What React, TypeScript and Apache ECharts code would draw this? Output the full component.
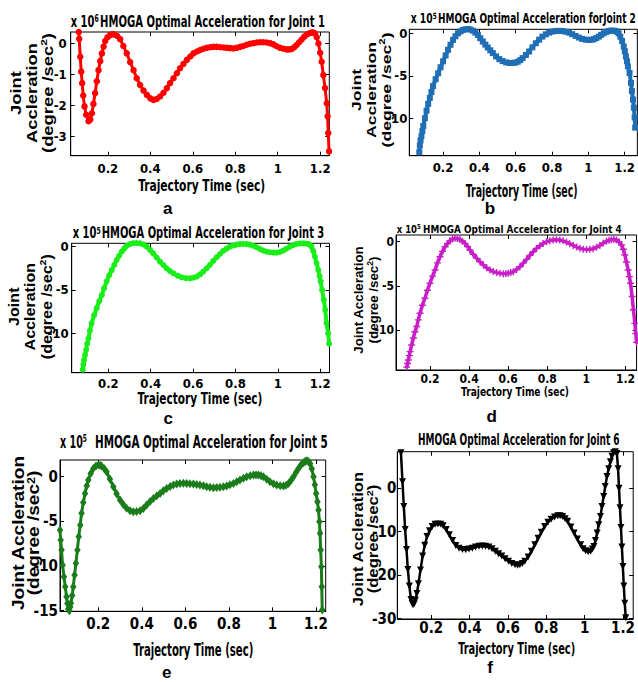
import React, { useEffect, useRef } from "react";
import * as echarts from "echarts";

// ---------- data ----------
const xTickValues = [0.2, 0.4, 0.6, 0.8, 1, 1.2];
const yTicksA = [-3, -2, -1, 0];
const yTicksB = [-10, -5, 0];
const yTicksC = [-10, -5, 0];
const yTicksD = [-10, -5, 0];
const yTicksE = [-15, -10, -5, 0];
const yTicksF = [-30, -20, -10, 0];

const joint1 = [
  [0.063, 0.37], [0.065, 0.15], [0.07, -0.43], [0.0745, -0.91], [0.079, -1.28], [0.084, -1.68], [0.09, -2.03], [0.098, -2.3],
  [0.109, -2.51], [0.117, -2.45], [0.125, -2.25], [0.132, -1.95], [0.14, -1.6], [0.148, -1.22], [0.156, -0.86], [0.164, -0.57],
  [0.172, -0.32], [0.18, -0.1], [0.1875, 0.08], [0.198, 0.2], [0.211, 0.27], [0.222, 0.3], [0.231, 0.29], [0.244, 0.24],
  [0.258, 0.14], [0.273, -0.08], [0.289, -0.32], [0.305, -0.6], [0.321, -0.86], [0.336, -1.12], [0.352, -1.34], [0.368, -1.52],
  [0.384, -1.66], [0.4, -1.77], [0.415, -1.82], [0.43, -1.79], [0.446, -1.71], [0.462, -1.59], [0.478, -1.44], [0.493, -1.28],
  [0.509, -1.12], [0.525, -0.96], [0.54, -0.8], [0.556, -0.66], [0.572, -0.53], [0.588, -0.42], [0.603, -0.32], [0.62, -0.26],
  [0.635, -0.21], [0.65, -0.17], [0.666, -0.14], [0.682, -0.12], [0.697, -0.11], [0.713, -0.11], [0.729, -0.12], [0.745, -0.13],
  [0.76, -0.14], [0.776, -0.15], [0.791, -0.16], [0.807, -0.14], [0.823, -0.11], [0.838, -0.08], [0.854, -0.04], [0.87, -0.01],
  [0.886, 0.01], [0.902, 0.03], [0.917, 0.04], [0.932, 0.04], [0.948, 0.03], [0.964, 0.01], [0.98, -0.03], [0.995, -0.09],
  [1.011, -0.14], [1.027, -0.17], [1.042, -0.19], [1.055, -0.19], [1.066, -0.18], [1.078, -0.12], [1.089, -0.05], [1.101, 0.04],
  [1.113, 0.13], [1.125, 0.22], [1.137, 0.29], [1.149, 0.33], [1.16, 0.35], [1.168, 0.35], [1.176, 0.32], [1.184, 0.2],
  [1.192, 0.0], [1.2, -0.3], [1.207, -0.59], [1.215, -1.02], [1.223, -1.44], [1.231, -1.93], [1.235, -2.35], [1.238, -2.89],
  [1.242, -3.48],
];

const joint2 = [
  [0.069, -14.0], [0.072, -13.2], [0.076, -12.6], [0.081, -12.1], [0.086, -11.5], [0.091, -10.9], [0.1, -10.0], [0.109, -9.1],
  [0.118, -8.3], [0.127, -7.6], [0.136, -6.9], [0.145, -6.2], [0.159, -5.4], [0.173, -4.7], [0.186, -4.0], [0.2, -3.3],
  [0.214, -2.6], [0.227, -1.95], [0.241, -1.35], [0.255, -0.78], [0.268, -0.35], [0.282, 0.0], [0.296, 0.22], [0.309, 0.39],
  [0.323, 0.47], [0.337, 0.5], [0.35, 0.44], [0.364, 0.31], [0.378, 0.08], [0.392, -0.19], [0.405, -0.58], [0.419, -0.97],
  [0.433, -1.33], [0.446, -1.67], [0.46, -2.0], [0.474, -2.33], [0.492, -2.72], [0.51, -3.04], [0.528, -3.27], [0.547, -3.42],
  [0.565, -3.49], [0.583, -3.5], [0.597, -3.45], [0.611, -3.35], [0.625, -3.16], [0.638, -2.92], [0.656, -2.55], [0.674, -2.14],
  [0.692, -1.65], [0.711, -1.17], [0.729, -0.75], [0.747, -0.39], [0.766, -0.12], [0.784, 0.08], [0.802, 0.2], [0.82, 0.27],
  [0.838, 0.29], [0.857, 0.27], [0.875, 0.19], [0.893, 0.08], [0.911, -0.1], [0.93, -0.31], [0.948, -0.5], [0.966, -0.66],
  [0.985, -0.75], [1.003, -0.78], [1.017, -0.76], [1.03, -0.7], [1.044, -0.56], [1.058, -0.39], [1.071, -0.18], [1.085, 0.0],
  [1.099, 0.16], [1.112, 0.27], [1.126, 0.32], [1.14, 0.31], [1.149, 0.26], [1.158, 0.19], [1.167, 0.0], [1.176, -0.39],
  [1.186, -0.9], [1.195, -1.56], [1.201, -2.1], [1.207, -2.72], [1.213, -3.3], [1.218, -3.89], [1.227, -4.67], [1.235, -5.84],
  [1.24, -6.8], [1.246, -7.8], [1.251, -8.75], [1.255, -9.9], [1.258, -11.1],
];

const joint3 = [
  [0.079, -14.2], [0.082, -13.6], [0.085, -13.1], [0.09, -12.5], [0.095, -11.9], [0.1, -11.2], [0.106, -10.6], [0.113, -9.7],
  [0.121, -8.85], [0.133, -7.9], [0.145, -7.1], [0.157, -6.3], [0.169, -5.6], [0.18, -4.8], [0.192, -4.0], [0.204, -3.3],
  [0.216, -2.7], [0.228, -2.1], [0.239, -1.54], [0.251, -1.05], [0.263, -0.58], [0.275, -0.22], [0.286, 0.08], [0.302, 0.3],
  [0.318, 0.4], [0.333, 0.42], [0.349, 0.38], [0.365, 0.25], [0.381, 0.0], [0.397, -0.38], [0.412, -0.77], [0.428, -1.25],
  [0.444, -1.73], [0.46, -2.13], [0.475, -2.5], [0.491, -2.82], [0.507, -3.08], [0.527, -3.35], [0.546, -3.54], [0.566, -3.63],
  [0.585, -3.65], [0.601, -3.58], [0.617, -3.46], [0.633, -3.2], [0.648, -2.88], [0.664, -2.5], [0.68, -2.1], [0.695, -1.65],
  [0.711, -1.23], [0.727, -0.85], [0.742, -0.5], [0.758, -0.23], [0.774, 0.0], [0.79, 0.14], [0.805, 0.23], [0.821, 0.29],
  [0.837, 0.31], [0.853, 0.29], [0.868, 0.23], [0.884, 0.1], [0.9, -0.08], [0.916, -0.28], [0.931, -0.46], [0.947, -0.58],
  [0.963, -0.65], [0.979, -0.68], [0.994, -0.69], [1.01, -0.62], [1.025, -0.46], [1.041, -0.24], [1.057, 0.0], [1.072, 0.18],
  [1.088, 0.31], [1.104, 0.37], [1.12, 0.38], [1.132, 0.36], [1.143, 0.31], [1.151, 0.2], [1.159, 0.0], [1.167, -0.5],
  [1.175, -1.15], [1.183, -1.9], [1.191, -2.7], [1.197, -3.4], [1.202, -4.0], [1.209, -5.0], [1.217, -6.15], [1.224, -7.3],
  [1.23, -8.85], [1.238, -10.0], [1.242, -11.2],
];

const joint4 = [
  [0.081, -14.2], [0.085, -13.8], [0.089, -13.4], [0.094, -12.9], [0.098, -12.45], [0.106, -11.7], [0.115, -10.9], [0.123, -10.2],
  [0.132, -9.6], [0.14, -8.85], [0.149, -8.1], [0.161, -7.2], [0.174, -6.4], [0.187, -5.5], [0.2, -4.7], [0.213, -3.9],
  [0.226, -3.2], [0.238, -2.4], [0.251, -1.7], [0.264, -1.1], [0.277, -0.57], [0.29, -0.2], [0.302, 0.11], [0.315, 0.3],
  [0.328, 0.38], [0.34, 0.36], [0.353, 0.26], [0.366, 0.05], [0.379, -0.19], [0.392, -0.55], [0.404, -0.94], [0.421, -1.42],
  [0.439, -1.89], [0.456, -2.28], [0.473, -2.64], [0.49, -2.95], [0.507, -3.2], [0.524, -3.38], [0.541, -3.5], [0.558, -3.58],
  [0.575, -3.62], [0.588, -3.61], [0.6, -3.58], [0.613, -3.5], [0.626, -3.4], [0.643, -3.15], [0.66, -2.83], [0.677, -2.43],
  [0.694, -2.0], [0.711, -1.55], [0.728, -1.13], [0.745, -0.76], [0.762, -0.45], [0.779, -0.2], [0.796, 0.0], [0.813, 0.12],
  [0.83, 0.19], [0.847, 0.21], [0.864, 0.19], [0.881, 0.1], [0.898, -0.04], [0.915, -0.22], [0.933, -0.42], [0.95, -0.6],
  [0.967, -0.75], [0.984, -0.84], [1.001, -0.87], [1.018, -0.85], [1.035, -0.79], [1.052, -0.63], [1.069, -0.42], [1.086, -0.18],
  [1.103, 0.04], [1.116, 0.16], [1.128, 0.23], [1.141, 0.24], [1.154, 0.19], [1.167, 0.0], [1.18, -0.38], [1.189, -0.85],
  [1.197, -1.5], [1.205, -2.3], [1.214, -3.2], [1.22, -3.95], [1.226, -4.7], [1.234, -6.2], [1.241, -7.7], [1.248, -9.25],
  [1.253, -10.4], [1.257, -11.4],
];

const joint5 = [
  [0.024, -5.97], [0.027, -7.09], [0.031, -8.21], [0.036, -9.89], [0.042, -11.19], [0.048, -12.31], [0.054, -13.43], [0.058, -14.2],
  [0.062, -14.8], [0.067, -15.0], [0.071, -14.6], [0.074, -14.18], [0.08, -13.3], [0.085, -12.31], [0.091, -11.0], [0.097, -9.7],
  [0.104, -8.2], [0.11, -6.72], [0.117, -5.4], [0.123, -4.1], [0.131, -2.9], [0.139, -1.87], [0.147, -1.0], [0.154, -0.37],
  [0.165, 0.35], [0.177, 0.93], [0.189, 1.2], [0.2, 1.31], [0.208, 1.28], [0.215, 1.19], [0.227, 0.92], [0.238, 0.56],
  [0.253, -0.25], [0.269, -1.12], [0.284, -1.9], [0.3, -2.61], [0.315, -3.12], [0.33, -3.54], [0.346, -3.8], [0.361, -3.92],
  [0.376, -3.9], [0.392, -3.81], [0.407, -3.55], [0.422, -3.17], [0.438, -2.78], [0.453, -2.43], [0.469, -2.12], [0.484, -1.87],
  [0.499, -1.58], [0.514, -1.31], [0.53, -1.1], [0.545, -0.93], [0.56, -0.82], [0.575, -0.75], [0.591, -0.74], [0.606, -0.75],
  [0.621, -0.78], [0.637, -0.82], [0.652, -0.87], [0.667, -0.93], [0.683, -1.02], [0.698, -1.12], [0.713, -1.19], [0.729, -1.23],
  [0.744, -1.22], [0.759, -1.19], [0.775, -1.12], [0.79, -1.04], [0.805, -0.9], [0.821, -0.75], [0.836, -0.56], [0.851, -0.37],
  [0.867, -0.17], [0.882, 0.0], [0.898, 0.12], [0.913, 0.19], [0.925, 0.2], [0.936, 0.19], [0.948, 0.1], [0.959, 0.0],
  [0.974, -0.28], [0.989, -0.56], [1.005, -0.78], [1.02, -0.93], [1.036, -1.02], [1.051, -1.04], [1.063, -0.95], [1.074, -0.75],
  [1.086, -0.4], [1.097, 0.0], [1.109, 0.5], [1.12, 0.93], [1.131, 1.3], [1.143, 1.57], [1.151, 1.72], [1.158, 1.79],
  [1.166, 1.7], [1.173, 1.49], [1.181, 0.9], [1.189, 0.0], [1.195, -0.9], [1.201, -1.87], [1.207, -2.8], [1.212, -3.73],
  [1.216, -5.04], [1.219, -6.34], [1.222, -8.21], [1.225, -10.07], [1.227, -12.31], [1.229, -14.93],
];

const joint6 = [
  [0.042, 8.2], [0.05, 1.5], [0.057, -4.2], [0.064, -9.5], [0.071, -14.1], [0.078, -18.7], [0.086, -22.5], [0.094, -25.6],
  [0.1, -26.5], [0.105, -26.8], [0.111, -26.6], [0.117, -25.8], [0.125, -24.2], [0.133, -22.0], [0.144, -18.8], [0.155, -15.6],
  [0.166, -13.1], [0.178, -11.1], [0.191, -9.8], [0.205, -8.8], [0.22, -8.3], [0.235, -8.2], [0.25, -8.3], [0.262, -8.6],
  [0.278, -9.5], [0.294, -10.7], [0.311, -12.0], [0.328, -13.2], [0.345, -13.8], [0.363, -14.1], [0.38, -14.15], [0.397, -14.0],
  [0.414, -13.8], [0.431, -13.5], [0.449, -13.35], [0.466, -13.3], [0.483, -13.35], [0.5, -13.5], [0.517, -13.9], [0.534, -14.5],
  [0.551, -15.1], [0.568, -15.6], [0.585, -16.2], [0.603, -16.8], [0.62, -17.3], [0.637, -17.6], [0.65, -17.7], [0.662, -17.6],
  [0.675, -17.3], [0.688, -16.8], [0.705, -15.8], [0.722, -14.5], [0.74, -13.0], [0.757, -11.5], [0.774, -10.1], [0.791, -8.8],
  [0.808, -7.8], [0.825, -7.1], [0.843, -6.6], [0.86, -6.3], [0.872, -6.3], [0.885, -6.5], [0.898, -7.0], [0.911, -7.6],
  [0.928, -8.9], [0.945, -10.3], [0.962, -11.7], [0.979, -13.0], [0.992, -13.9], [1.005, -14.4], [1.018, -14.6], [1.031, -14.5],
  [1.04, -14.0], [1.048, -13.4], [1.056, -12.0], [1.065, -10.3], [1.073, -8.4], [1.082, -6.5], [1.09, -4.2], [1.099, -1.9],
  [1.107, 0.4], [1.116, 2.7], [1.125, 4.5], [1.134, 6.1], [1.142, 7.4], [1.151, 8.2], [1.16, 8.4], [1.168, 8.0],
  [1.174, 4.5], [1.179, 0.0], [1.184, -4.5], [1.189, -9.0], [1.194, -13.5], [1.199, -18.0], [1.204, -22.5], [1.209, -26.5],
  [1.214, -29.8],
];

// ---------- styling / layout ----------
const NARROW = "'Liberation Sans Narrow','Arial Narrow','Nimbus Sans Narrow','DejaVu Sans Condensed','Liberation Sans',Arial,sans-serif";
const BOLD = "'Liberation Sans',Arial,sans-serif";
const PLUS = "path://M4,0L6,0L6,4L10,4L10,6L6,6L6,10L4,10L4,6L0,6L0,4L4,4Z";

const panels = [
  { data: joint1, yTicks: yTicksA, color: "#ff0000", symbol: "circle", size: 6.5, rot: 0, lw: 3,
    grid: { left: 70.7, top: 32, width: 258.6, height: 123.7 }, x: [0.025, 1.243], y: [-3.62, 0.37], tfs: 13, ylm: 4, xlm: 6 },
  { data: joint2, yTicks: yTicksB, color: "#1f6eb6", symbol: "rect", size: 6, rot: 0, lw: 4,
    grid: { left: 409.3, top: 29.3, width: 229.5, height: 126.4 }, x: [0.014, 1.27], y: [-14.4, 0.47], tfs: 13, ylm: 2, xlm: 5 },
  { data: joint3, yTicks: yTicksC, color: "#1aee1a", symbol: "circle", size: 6, rot: 0, lw: 4,
    grid: { left: 71.7, top: 243.3, width: 257.8, height: 129.4 }, x: [0.027, 1.244], y: [-14.54, 0.385], tfs: 13, ylm: 3, xlm: 4 },
  { data: joint4, yTicks: yTicksD, color: "#c81ec8", symbol: PLUS, size: 7, rot: 0, lw: 3.5,
    grid: { left: 396, top: 235, width: 240.7, height: 135 }, x: [0.026, 1.257], y: [-14.53, 0.76], tfs: 12, ylm: 2, xlm: 3 },
  { data: joint5, yTicks: yTicksE, color: "#1a7d1a", symbol: "diamond", size: [6.5, 9], rot: 0, lw: 3,
    grid: { left: 60, top: 460, width: 265.7, height: 151.3 }, x: [0.024, 1.245], y: [-15.07, 1.87], tfs: 15, ylm: 2, xlm: 5 },
  { data: joint6, yTicks: yTicksF, color: "#000000", symbol: "triangle", size: 7, rot: 180, lw: 2.5,
    grid: { left: 397.3, top: 451.7, width: 239.4, height: 167.3 }, x: [0.023, 1.253], y: [-30.1, 8.43], tfs: 15, ylm: 1, xlm: 1 },
];

const titleSpecs = [
  { exp: "6", ex: 70.7, ew: 28, text: "HMOGA Optimal Acceleration for Joint 1", x: 100, w: 225, y: 21.5, fs: 15.5 },
  { exp: "5", ex: 410.7, ew: 26, text: "HMOGA Optimal Acceleration forJoint 2", x: 438, w: 198, y: 18.3, fs: 14 },
  { exp: "5", ex: 72.7, ew: 28, text: "HMOGA Optimal Acceleration for Joint 3", x: 101.7, w: 223, y: 233.3, fs: 15 },
  { exp: "5", ex: 396.7, ew: 24, text: "HMOGA Optimal Acceleration for Joint 4", x: 423, w: 199, y: 228.3, fs: 11 },
  { exp: "5", ex: 60, ew: 27, text: "HMOGA Optimal Acceleration for Joint 5", x: 95, w: 233, y: 441.7, fs: 17 },
  { exp: "", ex: 0, ew: 0, text: "HMOGA Optimal Acceleration for Joint 6", x: 418, w: 202, y: 440, fs: 15.5 },
];

const Y3 = ["Joint", "Accleration", "(degree /sec{s|2})"];
const Y2 = ["Joint Accleration", "(degree /sec{s|2})"];
const yNameSpecs = [
  { lines: Y3, cx: 31.5, cy: 93, lh: 16, fs: 14, w: 120 },
  { lines: Y3, cx: 371, cy: 90, lh: 15, fs: 13, w: 115 },
  { lines: Y3, cx: 30, cy: 306.7, lh: 16.5, fs: 14, w: 105 },
  { lines: Y2, cx: 366, cy: 300, lh: 15, fs: 13, w: 108 },
  { lines: Y2, cx: 26, cy: 533, lh: 15.5, fs: 16, w: 155 },
  { lines: Y2, cx: 365.5, cy: 539, lh: 15, fs: 14, w: 135 },
];

const xNameSpecs = [
  { cx: 201.7, cy: 185, fs: 16.5, w: 127 },
  { cx: 521.7, cy: 190, fs: 18, w: 112 },
  { cx: 200, cy: 398.3, fs: 16, w: 125 },
  { cx: 515, cy: 391.7, fs: 13, w: 108 },
  { cx: 193.3, cy: 650, fs: 18, w: 120 },
  { cx: 516.7, cy: 648.3, fs: 16, w: 117 },
];

const letterSpecs = [
  { t: "a", x: 167.7, y: 208 },
  { t: "b", x: 490, y: 208 },
  { t: "c", x: 168.3, y: 418.3 },
  { t: "d", x: 491.7, y: 416.7 },
  { t: "e", x: 166.7, y: 672.5 },
  { t: "f", x: 490, y: 667 },
];

const X_NAME = "Trajectory Time (sec)";

export default function App() {
  const ref = useRef<HTMLDivElement>(null);

  useEffect(() => {
    if (!ref.current) return;
    const chart = echarts.init(ref.current, null, { renderer: "svg" });
    const ctx = document.createElement("canvas").getContext("2d") as CanvasRenderingContext2D;
    const measure = (text: string, fs: number, family: string) => {
      ctx.font = `bold ${fs}px ${family}`;
      return ctx.measureText(text).width;
    };

    const grid: any[] = [];
    const xAxis: any[] = [];
    const yAxis: any[] = [];
    const series: any[] = [];

    panels.forEach((p, i) => {
      grid.push({ ...p.grid, show: true, borderColor: "#000", borderWidth: 1, backgroundColor: "transparent" });
      const lbl = { color: "#000", fontFamily: NARROW, fontWeight: "bold", fontSize: p.tfs, hideOverlap: false };
      const tick = (vals: number[]) => ({
        show: true, inside: true, length: 4, customValues: vals, lineStyle: { color: "#000", width: 1 },
      });
      xAxis.push({
        type: "value", gridIndex: i, min: p.x[0], max: p.x[1], position: "bottom",
        axisLine: { show: true, onZero: false, lineStyle: { color: "#000", width: 1 } },
        axisTick: tick(xTickValues),
        axisLabel: { ...lbl, margin: p.xlm, customValues: xTickValues, align: "center", verticalAlign: "top" },
        splitLine: { show: false },
      });
      xAxis.push({
        type: "value", gridIndex: i, min: p.x[0], max: p.x[1], position: "top",
        axisLine: { show: false, onZero: false },
        axisTick: tick(xTickValues),
        axisLabel: { show: false },
        splitLine: { show: false },
      });
      yAxis.push({
        type: "value", gridIndex: i, min: p.y[0], max: p.y[1], position: "left",
        axisLine: { show: true, onZero: false, lineStyle: { color: "#000", width: 1 } },
        axisTick: tick(p.yTicks),
        axisLabel: { ...lbl, margin: p.ylm, customValues: p.yTicks, align: "right", verticalAlign: "middle" },
        splitLine: { show: false },
      });
      yAxis.push({
        type: "value", gridIndex: i, min: p.y[0], max: p.y[1], position: "right",
        axisLine: { show: false, onZero: false },
        axisTick: tick(p.yTicks),
        axisLabel: { show: false },
        splitLine: { show: false },
      });
      series.push({
        type: "line",
        xAxisIndex: 2 * i,
        yAxisIndex: 2 * i,
        data: p.data,
        symbol: p.symbol,
        symbolSize: p.size,
        symbolRotate: p.rot,
        showSymbol: true,
        showAllSymbol: true,
        clip: false,
        lineStyle: { color: p.color, width: p.lw, join: "round", cap: "round" },
        itemStyle: { color: p.color, borderWidth: 0 },
        emphasis: { disabled: true },
      });
    });

    const graphic: any[] = [];
    const baseText = (fs: number, family: string) => ({
      fill: "#000", fontSize: fs, fontFamily: family, fontWeight: "bold",
    });

    titleSpecs.forEach((t) => {
      if (t.exp) {
        const supFs = t.fs * 0.62;
        const mw = measure("x 10", t.fs, NARROW) + measure(t.exp, supFs, NARROW);
        graphic.push({
          type: "text", x: t.ex, y: t.y, scaleX: t.ew / mw, silent: true,
          style: {
            ...baseText(t.fs, NARROW), text: `x 10{s|${t.exp}}`,
            align: "left", verticalAlign: "middle", textAlign: "left", textVerticalAlign: "middle",
            rich: { s: { ...baseText(supFs, NARROW), verticalAlign: "top" } },
          },
        });
      }
      const w = measure(t.text, t.fs, NARROW);
      graphic.push({
        type: "text", x: t.x, y: t.y, scaleX: t.w / w, silent: true,
        style: {
          ...baseText(t.fs, NARROW), text: t.text,
          align: "left", verticalAlign: "middle", textAlign: "left", textVerticalAlign: "middle",
        },
      });
    });

    yNameSpecs.forEach((s) => {
      const supFs = s.fs * 0.65;
      const widths = s.lines.map((l) =>
        l.includes("{s|")
          ? measure(l.replace("{s|2}", ""), s.fs, BOLD) + measure("2", supFs, BOLD)
          : measure(l, s.fs, BOLD)
      );
      const mw = Math.max(...widths);
      graphic.push({
        type: "text", x: s.cx, y: s.cy, rotation: Math.PI / 2, scaleX: s.w / mw, silent: true,
        style: {
          ...baseText(s.fs, BOLD), text: s.lines.join("\n"), lineHeight: s.lh,
          align: "center", verticalAlign: "middle", textAlign: "center", textVerticalAlign: "middle",
          rich: { s: { ...baseText(supFs, BOLD), verticalAlign: "top", lineHeight: s.lh } },
        },
      });
    });

    xNameSpecs.forEach((s) => {
      const w = measure(X_NAME, s.fs, NARROW);
      graphic.push({
        type: "text", x: s.cx, y: s.cy, scaleX: s.w / w, silent: true,
        style: {
          ...baseText(s.fs, NARROW), text: X_NAME,
          align: "center", verticalAlign: "middle", textAlign: "center", textVerticalAlign: "middle",
        },
      });
    });

    letterSpecs.forEach((l) => {
      graphic.push({
        type: "text", x: l.x, y: l.y, silent: true,
        style: {
          ...baseText(17, BOLD), text: l.t,
          align: "center", verticalAlign: "middle", textAlign: "center", textVerticalAlign: "middle",
        },
      });
    });

    chart.setOption({
      animation: false,
      backgroundColor: "#ffffff",
      grid,
      xAxis,
      yAxis,
      series,
      graphic,
    });

    return () => chart.dispose();
  }, []);

  return <div ref={ref} style={{ position: "absolute", left: 0, top: 0, width: 638, height: 682 }} />;
}
